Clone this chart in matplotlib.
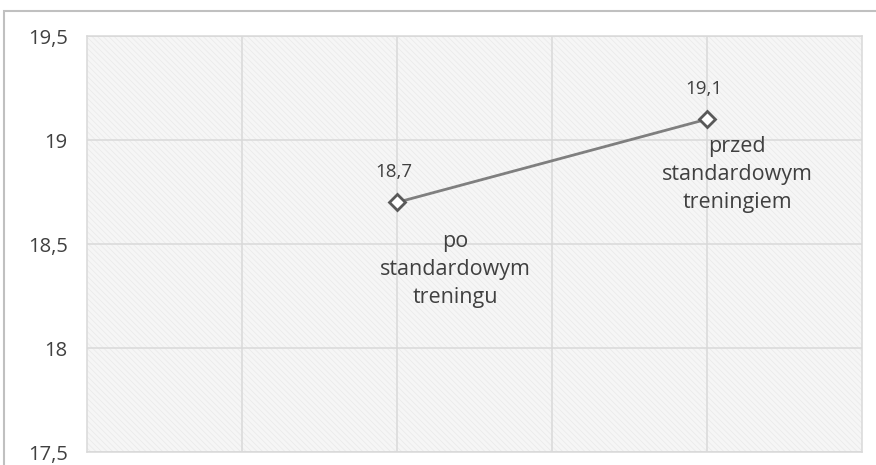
import matplotlib.pyplot as plt
from matplotlib.patches import Rectangle
from matplotlib.ticker import FuncFormatter

# pomiar przed i po standardowym treningu
x_pos = [4, 2]
values = [19.1, 18.7]
names = ['przed\nstandardowym\ntreningiem', 'po\nstandardowym\ntreningu']
y_ticks = [17.5, 18, 18.5, 19, 19.5]

# przesuniecia opisow punktow (piksele)
name_offsets = [(30, -17), (58, -29)]

plt.rcParams['font.family'] = ['Open Sans', 'DejaVu Sans']
plt.rcParams['hatch.linewidth'] = 0.6

txt = '#404040'
grid_c = '#d9d9d9'

fig = plt.figure(figsize=(8.76, 4.65), dpi=100)
ax = fig.add_axes([87/876, 1 - 452/465, (862 - 87)/876, (452 - 36)/465])

# tlo wykresu z drobnym ukosnym wzorem
bg = Rectangle((0, 0), 1, 1, transform=ax.transAxes, facecolor='#f6f6f6',
               edgecolor='#ebebeb', linewidth=0, hatch='\\\\\\\\\\\\', zorder=0)
ax.add_patch(bg)

ax.set_xlim(0, 5)
ax.set_ylim(17.5, 19.5)
ax.set_yticks(y_ticks)
ax.set_xticks([1, 2, 3, 4])
ax.yaxis.set_major_formatter(FuncFormatter(lambda v, p: ('%g' % v).replace('.', ',')))
ax.tick_params(axis='y', length=0, pad=14, labelsize=14.5, labelcolor=txt)
ax.tick_params(axis='x', length=0, labelbottom=False)
ax.grid(True, color=grid_c, linewidth=1.1)
ax.set_axisbelow(True)
for s in ax.spines.values():
    s.set_color(grid_c)
    s.set_linewidth(1.1)

ax.plot(x_pos, values, color='#7f7f7f', linewidth=2, marker='D', markersize=8,
        markerfacecolor='white', markeredgecolor='#595959', markeredgewidth=2, zorder=3)

for xv, yv, nm, off in zip(x_pos, values, names, name_offsets):
    ax.annotate(('%g' % yv).replace('.', ','), (xv, yv), xytext=(-3, 30),
                textcoords='offset pixels', ha='center', va='center',
                fontsize=13.5, color=txt)
    ax.annotate(nm, (xv, yv), xytext=off, textcoords='offset pixels',
                ha='center', va='top', fontsize=15.5, color=txt, linespacing=1.44)

# ramka calego obszaru wykresu
fig.patches.append(Rectangle((4/876, -0.1), 1.2, 1.1 - 11/465, transform=fig.transFigure,
                             fill=False, edgecolor='#c0c0c0', linewidth=1.5))

fig.savefig('out.png', dpi=100)
